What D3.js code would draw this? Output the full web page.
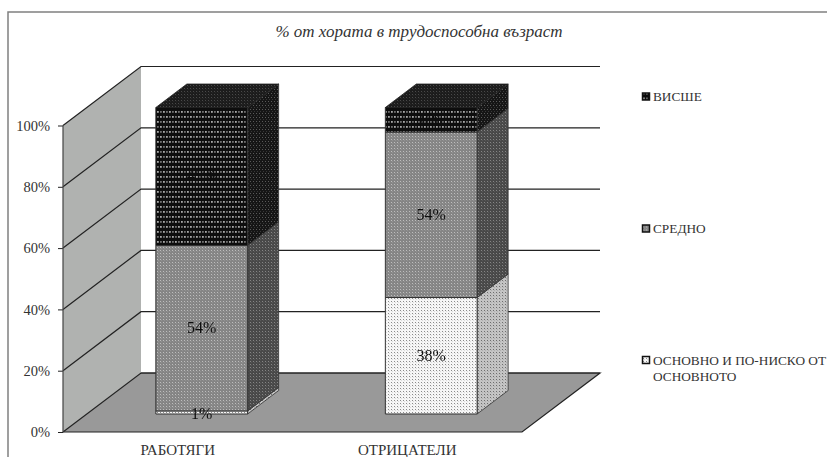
<!DOCTYPE html>
<html>
<head>
<meta charset="utf-8">
<title>% от хората в трудоспособна възраст</title>
<script src="https://cdn.jsdelivr.net/npm/d3@7"></script>
<style>
    html, body { margin: 0; padding: 0; background: #fff; }
    svg { display: block; }
    text { font-family: "Liberation Serif", serif; fill: #333; }
    .axis path { display: none; }
    .axis line { stroke: #222; }
    .axis text { font-size: 14.5px; }
    .tick-x text { font-size: 15px; }
    text.title { font-size: 17px; font-style: italic; text-anchor: middle; }
    text.val { font-size: 16px; text-anchor: middle; fill: #111; }
    text.leg { font-size: 13.3px; }
</style>
</head>
<body>
<div id="chart"></div>
<script>
    // values
    var categories = ["РАБОТЯГИ", "ОТРИЦАТЕЛИ"];
    var seriesNames = ["ОСНОВНО И ПО-НИСКО ОТ ОСНОВНОТО", "СРЕДНО", "ВИСШЕ"];
    var low = [1, 38];
    var mid = [54, 54];
    var high = [45, 8];
    var yTicks = [0, 20, 40, 60, 80, 100];

    var W = 827, H = 457;
    var svg = d3.select("#chart").append("svg").attr("width", W).attr("height", H);

    // 3d look: back wall is front plane moved by depth, bars stand part way in
    var depth = {x: 78, y: -59};
    var barShift = {x: 24, y: -18};
    var barDepth = {x: 31, y: -23.5};

    var x = d3.scaleBand().domain(categories).range([63, 522]).paddingInner(0.6).paddingOuter(0.3);
    var y = d3.scaleLinear().domain([0, 100]).range([432, 125.5]);

    // patterns
    var defs = svg.append("defs");
    function dots(id, bg, fg, w, h, r, fg2) {
        var p = defs.append("pattern").attr("id", id).attr("patternUnits", "userSpaceOnUse")
            .attr("width", w).attr("height", h);
        p.append("rect").attr("width", w).attr("height", h).attr("fill", bg);
        p.append("rect").attr("x", 1).attr("y", 1).attr("width", r).attr("height", r).attr("fill", fg);
        p.append("rect").attr("x", 1 + w / 2).attr("y", 1 + h / 2).attr("width", r).attr("height", r).attr("fill", fg);
        if (fg2) {
            p.append("rect").attr("x", 1 + w / 2).attr("y", 1).attr("width", r).attr("height", r).attr("fill", fg2);
            p.append("rect").attr("x", 1).attr("y", 1 + h / 2).attr("width", r).attr("height", r).attr("fill", fg2);
        }
    }
    dots("highFront", "#0a0a0a", "#a8a8a8", 6, 10, 1.8, "#6e6e6e");
    dots("highSide", "#161616", "#5a5a5a", 3, 4, 1);
    dots("highTop", "#1c1c1c", "#484848", 3, 3, 1);
    dots("midFront", "#858585", "#bdbdbd", 3, 3, 1);
    dots("midSide", "#4a4a4a", "#858585", 3, 3, 1);
    dots("lowFront", "#f6f6f6", "#8a8a8a", 3, 3, 1);
    dots("lowSide", "#c4c4c4", "#6e6e6e", 3, 3, 1);
    defs.append("filter").attr("id", "soft").append("feGaussianBlur").attr("stdDeviation", 0.35);

    var fronts = ["lowFront", "midFront", "highFront"];
    var sides = ["lowSide", "midSide", "highSide"];

    // frame
    svg.append("path").attr("d", "M8," + H + "V12H" + W)
        .attr("fill", "none").attr("stroke", "#808080").attr("stroke-width", 1.5);

    var x0 = x.range()[0], x1 = x.range()[1];

    function poly(pts) { return d3.line()(pts) + "Z"; }

    // side wall and floor
    svg.append("path")
        .attr("d", poly([[x0, y(0)], [x0, y(100)], [x0 + depth.x, y(100) + depth.y], [x0 + depth.x, y(0) + depth.y]]))
        .attr("fill", "#b0b2b0");
    svg.append("path")
        .attr("d", poly([[x0, y(0)], [x1, y(0)], [x1 + depth.x, y(0) + depth.y], [x0 + depth.x, y(0) + depth.y]]))
        .attr("fill", "#999999");
    svg.append("path")
        .attr("d", d3.line()([[x0 + depth.x, y(0) + depth.y], [x1 + depth.x, y(0) + depth.y], [x1, y(0)], [x0, y(0)]]))
        .attr("fill", "none").attr("stroke", "#222").attr("stroke-width", 1.2);

    // gridlines, wall part then back part
    yTicks.forEach(function(t) {
        svg.append("path")
            .attr("d", d3.line()([[x0, y(t)], [x0 + depth.x, y(t) + depth.y], [x1 + depth.x, y(t) + depth.y]]))
            .attr("fill", "none").attr("stroke", "#222").attr("stroke-width", 1.2);
    });

    // axes
    svg.append("g").attr("class", "axis").attr("transform", "translate(" + x0 + ",0)")
        .call(d3.axisLeft(y).tickValues(yTicks).tickSize(5).tickPadding(8).tickFormat(function(d) { return d + "%"; }));
    svg.append("line").attr("x1", x0).attr("x2", x0).attr("y1", y(0)).attr("y2", y(100))
        .attr("stroke", "#444").attr("stroke-width", 1.2);
    svg.append("g").attr("class", "axis tick-x").attr("transform", "translate(0," + (y(0) + 9) + ")")
        .call(d3.axisBottom(x).tickSize(0).tickPadding(3));

    // bars
    var stacked = categories.map(function(c, i) {
        var a = low[i], b = a + mid[i], t = b + high[i];
        return {cat: c, parts: [
            {from: 0, to: a, v: low[i]},
            {from: a, to: b, v: mid[i]},
            {from: b, to: t, v: high[i]}
        ]};
    });

    var bars = svg.selectAll("g.bar").data(stacked).enter().append("g").attr("class", "bar")
        .attr("filter", "url(#soft)");

    bars.each(function(d) {
        var g = d3.select(this);
        var l = x(d.cat) + barShift.x, r = l + x.bandwidth();
        function py(v) { return y(v) + barShift.y; }
        d.parts.forEach(function(p, j) {
            g.append("path")
                .attr("d", poly([[r, py(p.from)], [r, py(p.to)], [r + barDepth.x, py(p.to) + barDepth.y], [r + barDepth.x, py(p.from) + barDepth.y]]))
                .attr("fill", "url(#" + sides[j] + ")").attr("stroke", "#333").attr("stroke-width", 0.8);
            g.append("path")
                .attr("d", poly([[l, py(p.from)], [r, py(p.from)], [r, py(p.to)], [l, py(p.to)]]))
                .attr("fill", "url(#" + fronts[j] + ")").attr("stroke", "#333").attr("stroke-width", 1);
        });
        var top = d.parts[2].to;
        g.append("path")
            .attr("d", poly([[l, py(top)], [r, py(top)], [r + barDepth.x, py(top) + barDepth.y], [l + barDepth.x, py(top) + barDepth.y]]))
            .attr("fill", "url(#highTop)").attr("stroke", "#222").attr("stroke-width", 0.8);
        d.parts.forEach(function(p) {
            g.append("text").attr("class", "val")
                .attr("x", (l + r) / 2)
                .attr("y", py((p.from + p.to) / 2) + (p.v < 5 ? 7 : 5))
                .text(p.v + "%");
        });
    });

    // title
    svg.append("text").attr("class", "title").attr("x", 419).attr("y", 37)
        .text("% от хората в трудоспособна възраст");

    // legend, top entry first
    var legendY = [96.5, 228.5, 360];
    var legendFill = ["highFront", "midFront", "lowFront"];
    var legendLabels = seriesNames.slice().reverse();
    var legend = svg.selectAll("g.legend").data(legendLabels).enter().append("g")
        .attr("class", "legend")
        .attr("transform", function(d, i) { return "translate(642," + legendY[i] + ")"; });
    legend.append("rect").attr("x", 0.5).attr("y", -3.5).attr("width", 7).attr("height", 7)
        .attr("fill", function(d, i) { return "url(#" + legendFill[i] + ")"; })
        .attr("stroke", "#111").attr("stroke-width", 1.5);
    legend.append("text").attr("class", "leg").attr("x", 11).attr("y", 4.5)
        .text(function(d) { return d.indexOf("ОСНОВНОТО") > 0 ? "ОСНОВНО И ПО-НИСКО ОТ" : d; });
    legend.filter(function(d) { return d.indexOf("ОСНОВНОТО") > 0; })
        .append("text").attr("class", "leg").attr("x", 11).attr("y", 20.5).text("ОСНОВНОТО");
</script>
</body>
</html>
